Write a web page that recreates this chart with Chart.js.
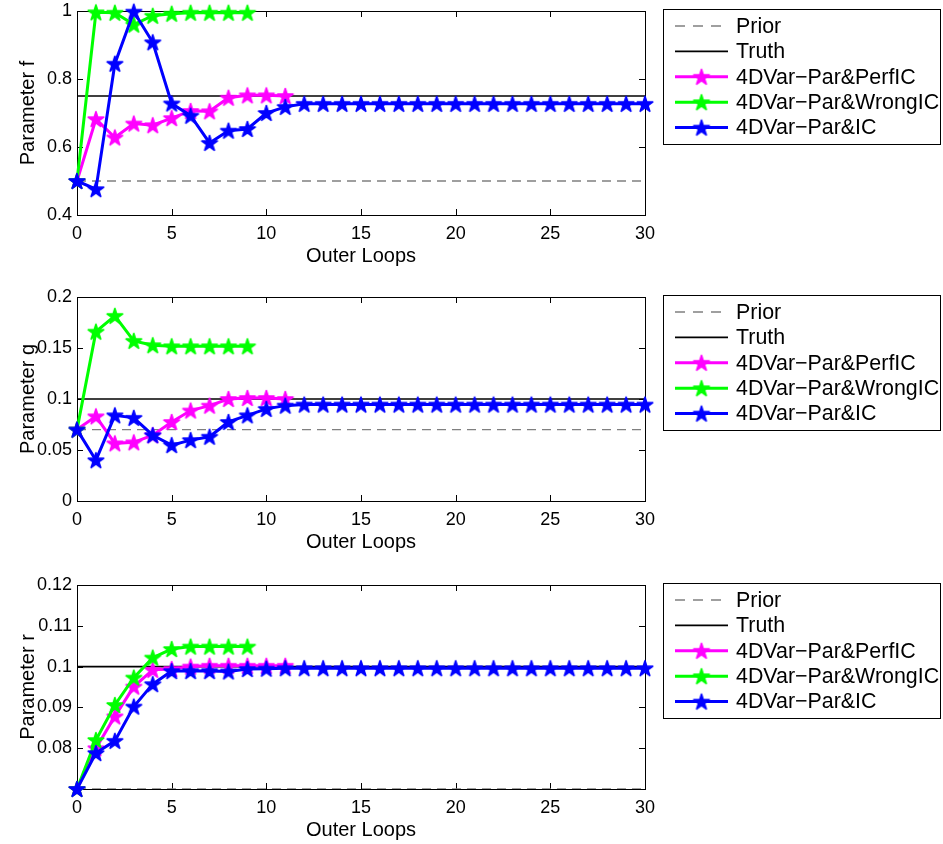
<!DOCTYPE html>
<html><head><meta charset="utf-8">
<script src="https://cdn.jsdelivr.net/npm/chart.js@4.4.1/dist/chart.umd.min.js"></script>
<style>
body{margin:0;background:#fff;width:943px;height:844px;position:relative;overflow:hidden;}
canvas{position:absolute;left:0;}
</style></head><body>
<canvas id="c1" width="943" height="272" style="top:0px"></canvas>
<canvas id="c2" width="943" height="272" style="top:286px"></canvas>
<canvas id="c3" width="943" height="272" style="top:574px"></canvas>
<script>
// ---- data ----
const xRange = [0, 30];
const xTicks = [0, 5, 10, 15, 20, 25, 30];
const seriesNames = ['Prior', 'Truth', '4DVar\u2212Par&PerfIC', '4DVar\u2212Par&WrongIC', '4DVar\u2212Par&IC'];

const fTicks = [0.4, 0.6, 0.8, 1];
const fPrior = 0.5, fTruth = 0.75;
const fPerfIC = [0.5, 0.682, 0.628, 0.669, 0.664, 0.685, 0.706, 0.705, 0.745, 0.752, 0.752, 0.75];
const fWrongIC = [0.5, 0.996, 0.995, 0.96, 0.986, 0.992, 0.995, 0.995, 0.995, 0.995];
const fIC = [0.5, 0.476, 0.845, 0.998, 0.908, 0.728, 0.692, 0.612, 0.648, 0.653, 0.70, 0.718,
  0.727, 0.727, 0.727, 0.727, 0.727, 0.727, 0.727, 0.727, 0.727, 0.727,
  0.727, 0.727, 0.727, 0.727, 0.727, 0.727, 0.727, 0.727, 0.727];

const gTicks = [0, 0.05, 0.1, 0.15, 0.2];
const gPrior = 0.07, gTruth = 0.1;
const gPerfIC = [0.07, 0.083, 0.0565, 0.0575, 0.0645, 0.0775, 0.0887, 0.0935, 0.1, 0.101, 0.101, 0.1];
const gWrongIC = [0.07, 0.166, 0.1815, 0.157, 0.1527, 0.1517, 0.1517, 0.1517, 0.1517, 0.1517];
const gIC = [0.07, 0.04, 0.084, 0.0815, 0.0645, 0.0548, 0.0597, 0.063, 0.0775, 0.084, 0.0903, 0.0935,
  0.0945, 0.0945, 0.0945, 0.0945, 0.0945, 0.0945, 0.0945, 0.0945, 0.0945, 0.0945,
  0.0945, 0.0945, 0.0945, 0.0945, 0.0945, 0.0945, 0.0945, 0.0945, 0.0945];

const rTicks = [0.08, 0.09, 0.1, 0.11, 0.12];
const rPrior = 0.07, rTruth = 0.1;
const rPerfIC = [0.07, 0.080, 0.0878, 0.0951, 0.0992, 0.0994, 0.1, 0.1002, 0.1002, 0.1002, 0.1002, 0.1002];
const rWrongIC = [0.07, 0.082, 0.0906, 0.0973, 0.1022, 0.1043, 0.1049, 0.1049, 0.1049, 0.1049];
const rIC = [0.07, 0.0788, 0.0818, 0.0902, 0.0957, 0.0989, 0.0989, 0.0989, 0.0988, 0.0994, 0.0995, 0.0996,
  0.0996, 0.0996, 0.0996, 0.0996, 0.0996, 0.0996, 0.0996, 0.0996, 0.0996, 0.0996,
  0.0996, 0.0996, 0.0996, 0.0996, 0.0996, 0.0996, 0.0996, 0.0996, 0.0996];

// ---- styling helpers ----
const FONT = "'Liberation Sans', Arial, Helvetica, sans-serif";
const C_PERF = '#ff00ff', C_WRONG = '#00ff00', C_IC = '#0000ff';

function makeStar(color) {
  const R = 8.2, s = 22;
  const cv = document.createElement('canvas');
  cv.width = s; cv.height = s;
  const ctx = cv.getContext('2d');
  const cx = s / 2, cy = s / 2 + 0.7, r = R * 0.382;
  ctx.beginPath();
  for (let i = 0; i < 10; i++) {
    const a = -Math.PI / 2 + i * Math.PI / 5;
    const rr = i % 2 === 0 ? R : r;
    const px = cx + rr * Math.cos(a), py = cy + rr * Math.sin(a);
    i === 0 ? ctx.moveTo(px, py) : ctx.lineTo(px, py);
  }
  ctx.closePath();
  ctx.fillStyle = color; ctx.fill();
  ctx.lineJoin = 'round';
  ctx.strokeStyle = color; ctx.lineWidth = 1.6; ctx.stroke();
  return cv;
}
const stars = { perf: makeStar(C_PERF), wrong: makeStar(C_WRONG), ic: makeStar(C_IC) };

const toPts = arr => arr.map((v, i) => ({ x: i, y: v }));
const flat = v => xRange.map(x => ({ x: x, y: v }));

const boxPlugin = {
  id: 'matlabBox',
  beforeDatasetsDraw(chart) {
    const { ctx, chartArea: a, scales: { x, y } } = chart;
    ctx.save();
    ctx.strokeStyle = '#000'; ctx.lineWidth = 1;
    ctx.strokeRect(Math.round(a.left) + 0.5, Math.round(a.top) + 0.5,
      Math.round(a.right - a.left), Math.round(a.bottom - a.top));
    ctx.beginPath();
    const tl = 6;
    x.ticks.forEach(t => {
      const px = Math.round(x.getPixelForValue(t.value)) + 0.5;
      ctx.moveTo(px, a.bottom); ctx.lineTo(px, a.bottom - tl);
      ctx.moveTo(px, a.top); ctx.lineTo(px, a.top + tl);
    });
    y.ticks.forEach(t => {
      const py = Math.round(y.getPixelForValue(t.value)) + 0.5;
      ctx.moveTo(a.left, py); ctx.lineTo(a.left + tl, py);
      ctx.moveTo(a.right, py); ctx.lineTo(a.right - tl, py);
    });
    ctx.stroke();
    ctx.restore();
  }
};

const legendPlugin = {
  id: 'matlabLegend',
  afterDraw(chart) {
    const ctx = chart.ctx;
    const bx = 663.5, by = 9.5, bw = 277, bh = 135;
    ctx.save();
    ctx.fillStyle = '#fff';
    ctx.fillRect(bx, by, bw, bh);
    ctx.strokeStyle = '#000'; ctx.lineWidth = 1;
    ctx.strokeRect(bx, by, bw, bh);
    ctx.font = '21.4px ' + FONT;
    ctx.textBaseline = 'middle';
    ctx.textAlign = 'left';
    chart.data.datasets.forEach((ds, i) => {
      const yy = 26 + i * 25.4;
      ctx.save();
      ctx.strokeStyle = ds.borderColor;
      ctx.lineWidth = ds.borderWidth;
      ctx.setLineDash(ds.borderDash ? [10, 8] : []);
      ctx.beginPath();
      ctx.moveTo(675, yy); ctx.lineTo(728, yy);
      ctx.stroke();
      ctx.restore();
      if (ds.pointStyle && typeof ds.pointStyle === 'object') {
        const im = ds.pointStyle;
        ctx.drawImage(im, 701.5 - im.width / 2, yy - im.height / 2);
      }
      ctx.fillStyle = '#000';
      ctx.fillText(ds.label, 736, yy + 1);
    });
    ctx.restore();
  }
};

function makeChart(id, yLabel, yMin, yMax, yTicks, prior, truth, perf, wrong, ic) {
  const lineDs = (label, data, color, star, order) => ({
    label, data: toPts(data), borderColor: color, backgroundColor: color,
    borderWidth: 3, pointStyle: star, pointRadius: 8, clip: false, order, tension: 0
  });
  new Chart(document.getElementById(id), {
    type: 'line',
    data: {
      datasets: [
        { label: seriesNames[0], data: flat(prior), borderColor: '#808080', borderWidth: 1.4,
          borderDash: [9, 6], pointRadius: 0, order: 5 },
        { label: seriesNames[1], data: flat(truth), borderColor: '#000000', borderWidth: 1.6,
          pointRadius: 0, order: 4 },
        lineDs(seriesNames[2], perf, C_PERF, stars.perf, 3),
        lineDs(seriesNames[3], wrong, C_WRONG, stars.wrong, 2),
        lineDs(seriesNames[4], ic, C_IC, stars.ic, 1)
      ]
    },
    options: {
      responsive: false, animation: false, devicePixelRatio: 1,
      layout: { padding: { left: 0, right: 298, top: 9, bottom: 0 } },
      plugins: { legend: { display: false }, tooltip: { enabled: false } },
      scales: {
        x: {
          type: 'linear', min: xRange[0], max: xRange[1],
          grid: { display: false, drawTicks: false, tickLength: 0 }, border: { display: false },
          afterBuildTicks: s => { s.ticks = xTicks.map(v => ({ value: v })); },
          afterFit: s => { s.height = 57; s.paddingLeft = 0; s.paddingRight = 0; },
          ticks: { color: '#000', font: { family: FONT, size: 18 }, padding: 8, maxRotation: 0,
            callback: v => String(v) },
          title: { display: true, text: 'Outer Loops', color: '#000',
            font: { family: FONT, size: 20 }, padding: { top: 0, bottom: 4 } }
        },
        y: {
          type: 'linear', min: yMin, max: yMax,
          grid: { display: false, drawTicks: false, tickLength: 0 }, border: { display: false },
          afterBuildTicks: s => { s.ticks = yTicks.map(v => ({ value: v })); },
          afterFit: s => { s.width = 77; s.paddingTop = 0; s.paddingBottom = 0; },
          ticks: { color: '#000', font: { family: FONT, size: 18 }, padding: 5,
            callback: v => String(v) },
          title: { display: true, text: yLabel, color: '#000',
            font: { family: FONT, size: 20 }, padding: { top: 16, bottom: 0 } }
        }
      }
    },
    plugins: [boxPlugin, legendPlugin]
  });
}

makeChart('c1', 'Parameter f', 0.4, 1, fTicks, fPrior, fTruth, fPerfIC, fWrongIC, fIC);
makeChart('c2', 'Parameter g', 0, 0.2, gTicks, gPrior, gTruth, gPerfIC, gWrongIC, gIC);
makeChart('c3', 'Parameter r', 0.07, 0.12, rTicks, rPrior, rTruth, rPerfIC, rWrongIC, rIC);
</script>
</body></html>
